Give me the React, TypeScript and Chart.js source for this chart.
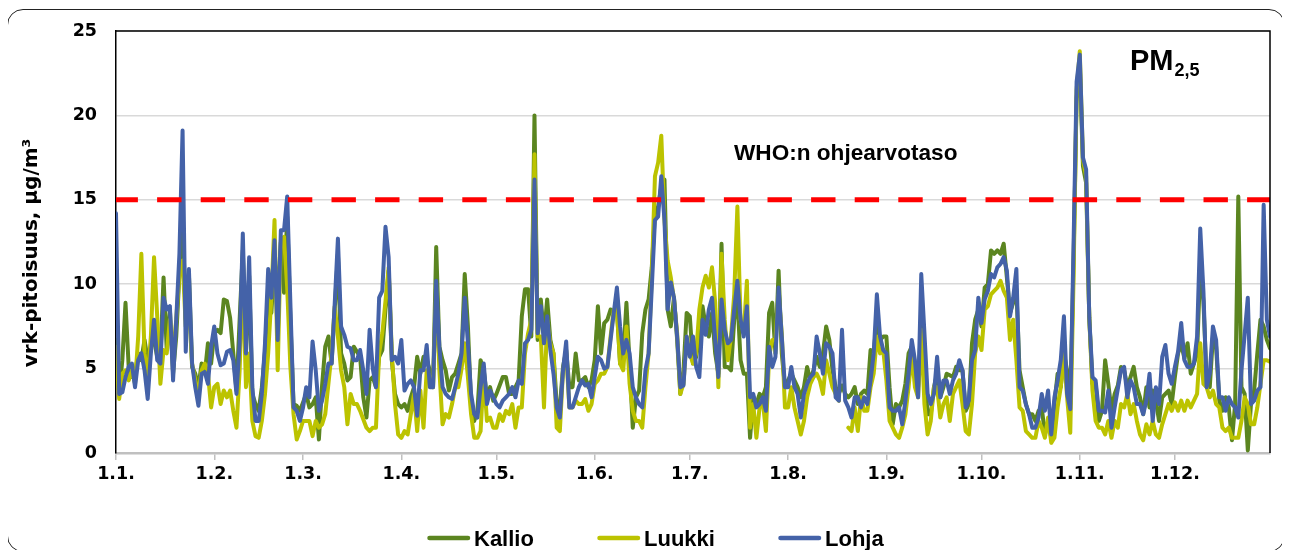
import React, { useEffect, useRef } from "react";
import { Chart, registerables } from "chart.js";

Chart.register(...registerables);

// ---- data ----
const MONTH_STARTS = [0, 31, 59, 90, 120, 151, 181, 212, 243, 273, 304, 334];
const MONTH_LABELS = ["1.1.", "1.2.", "1.3.", "1.4.", "1.5.", "1.6.", "1.7.", "1.8.", "1.9.", "1.10.", "1.11.", "1.12."];
const Y_MIN = 0;
const Y_MAX = 25;
const Y_STEP = 5;
const WHO_LIMIT = 15;
const SERIES_NAMES = ["Kallio", "Luukki", "Lohja"];
const Y_TITLE = "vrk-pitoisuus, µg/m³";
const WHO_TEXT = "WHO:n ohjearvotaso";
const PM_MAIN = "PM";
const PM_SUB = "2,5";

const KALLIO: (number | null)[] = [
  6.7, 3.5, 5.5, 8.9, 5.1, 4.5, 4.7, 5.9, 5.5, 6.7,
  5.5, 6.3, 6.7, 5.7, 5.7, 10.4, 6.1, 8.5, 4.7, 6.9,
  10.6, 14.0, 7.9, 10.6, 5.1, 4.7, 3.9, 5.3, 4.7, 6.5,
  5.3, 7.1, 7.3, 7.1, 9.1, 9.0, 8.0, 5.9, 3.7, 7.9,
  12.0, 6.0, 10.5, 3.5, 2.9, 2.5, 3.9, 6.0, 9.5, 8.3,
  11.5, 9.4, 12.5, 9.5, 14.0, 8.0, 2.9, 2.8, 2.5, 3.0,
  3.5, 2.7, 2.9, 3.3, 0.8, 4.0, 6.3, 6.9, 5.3, 8.5,
  11.8, 5.9, 5.3, 4.3, 4.5, 6.3, 6.0, 5.7, 3.3, 2.1,
  4.3, 4.5, 3.9, 5.7, 6.1, 8.5, 10.8, 5.5, 3.5, 2.9,
  2.7, 2.9, 2.5, 3.3, 3.9, 5.7, 4.7, 5.7, 5.5, 4.9,
  3.9, 12.2, 6.3, 5.5, 4.9, 3.7, 4.5, 4.7, 5.3, 5.9,
  10.6, 7.5, 2.9, 1.9, 2.5, 5.5, 4.9, 3.3, 3.9, 3.1,
  3.5, 4.0, 4.5, 4.5, 3.5, 3.5, 3.9, 4.3, 8.1, 9.7,
  9.7, 6.9, 20.0, 6.7, 9.1, 6.9, 9.1, 6.7, 5.9, 2.9,
  2.7, 5.1, 6.1, 3.9, 3.9, 5.9, 4.3, 4.3, 4.5, 3.9,
  4.3, 5.5, 8.7, 5.9, 7.7, 7.9, 8.5, 8.3, 8.5, 5.3,
  5.7, 8.9, 5.3, 1.5, 3.3, 3.7, 7.1, 8.5, 9.1, 11.0,
  14.2, 14.6, 15.8, 16.2, 8.5, 7.5, 9.2, 6.7, 3.5, 4.9,
  8.3, 8.1, 5.3, 5.7, 6.9, 8.7, 7.5, 6.9, 8.3, 5.9,
  4.7, 12.4, 5.1, 5.1, 4.9, 7.9, 9.2, 5.5, 4.7, 4.7,
  0.9, 3.3, 2.9, 3.5, 3.3, 3.9, 8.3, 8.9, 5.9, 10.8,
  5.9, 3.9, 4.3, 4.7, 4.3, 3.9, 3.3, 3.9, 5.1, 4.3,
  4.9, 5.7, 5.1, 5.9, 7.5, 6.7, 4.9, 3.9, 3.5, 4.0,
  3.5, 3.3, 3.5, 3.9, 2.9, 3.5, 3.7, 3.5, 6.1, 6.0,
  7.9, 6.7, 6.9, 6.9, 3.9, 1.7, 2.9, 2.7, 3.1, 4.1,
  5.9, 6.3, 5.1, 3.9, 7.9, 4.9, 2.3, 2.3, 3.9, 4.7,
  3.3, 3.9, 4.7, 4.6, 4.5, 5.1, 4.9, 4.9, 2.5, 2.9,
  6.5, 7.9, 8.5, 7.5, 9.8, 10.0, 12.0, 11.8, 12.0, 11.8,
  12.4, 10.4, 8.3, 8.9, 9.7, 4.9, 3.9, 2.9, 2.3, 2.3,
  1.9, 2.5, 2.7, 1.1, 1.9, 0.9, 2.9, 4.7, 3.9, 5.9,
  4.9, 2.9, 11.0, 21.0, 23.0, 17.0, 16.0, 8.0, 4.1, 4.1,
  1.9, 2.5, 5.5, 4.1, 2.5, 3.5, 4.0, 5.1, 4.9, 3.9,
  4.5, 5.1, 3.9, 3.3, 2.3, 3.9, 2.7, 3.7, 3.1, 1.9,
  3.3, 3.5, 3.7, 2.9, 4.5, 5.9, 6.5, 5.6, 6.5, 4.7,
  5.3, 5.9, 11.0, 9.0, 4.3, 3.9, 6.9, 6.3, 3.1, 2.5,
  3.3, 2.7, 0.75, 2.9, 15.2, 3.9, 3.5, 0.15, 2.9, 3.7,
  5.9, 7.9, 7.5, 6.7, 6.2,
];

const LUUKKI: (number | null)[] = [
  6.3, 3.2, 4.7, 4.9, 4.3, 4.9, 4.1, 6.9, 11.8, 5.9,
  4.5, 6.9, 11.6, 8.1, 4.1, 6.1, 5.9, 7.9, 5.9, 7.9,
  10.6, 11.4, 7.5, 8.7, 5.3, 4.3, 3.5, 4.9, 5.3, 4.7,
  2.7, 3.9, 4.1, 2.9, 3.7, 3.3, 3.7, 2.5, 1.5, 4.9,
  10.8, 3.9, 5.9, 1.9, 1.0, 0.9, 1.9, 3.5, 5.9, 9.2,
  13.8, 4.9, 12.6, 12.8, 9.8, 5.1, 2.3, 0.8, 1.3, 1.9,
  1.9, 1.9, 1.0, 1.9, 1.5, 1.7, 2.3, 4.1, 5.9, 8.7,
  6.9, 4.9, 3.9, 1.7, 3.5, 2.9, 2.9, 2.5, 2.0, 1.5,
  1.3, 1.5, 1.5, 5.9, 7.1, 9.0, 11.0, 5.9, 2.9, 1.1,
  0.9, 1.3, 1.1, 2.3, 3.5, 1.3, 3.7, 1.5, 4.9, 4.5,
  3.9, 9.8, 4.9, 1.7, 2.3, 2.1, 2.9, 3.9, 3.9, 5.0,
  6.5, 4.5, 2.3, 0.9, 0.9, 1.3, 4.7, 1.9, 2.1, 1.5,
  1.5, 2.3, 1.9, 2.5, 2.3, 2.9, 1.5, 2.7, 2.7, 5.9,
  7.1, 7.9, 17.7, 6.9, 6.9, 2.7, 7.9, 6.5, 5.9, 1.5,
  1.3, 4.9, 5.9, 2.7, 2.7, 3.1, 2.9, 2.9, 3.2, 2.5,
  2.9, 4.1, 4.3, 4.7, 4.7, 5.1, 6.9, 8.5, 8.5, 5.3,
  4.9, 7.5, 4.1, 2.5, 1.9, 1.9, 1.5, 3.9, 5.9, 10.5,
  16.4, 17.2, 18.8, 13.8, 11.4, 10.4, 9.1, 7.1, 3.5, 4.1,
  6.9, 5.9, 5.3, 5.9, 8.5, 9.8, 10.5, 9.8, 11.0, 8.9,
  3.9, 11.8, 7.9, 5.5, 6.9, 9.4, 14.6, 7.9, 7.1, 10.2,
  1.5, 2.9, 0.9, 2.7, 3.1, 1.3, 5.7, 6.7, 6.7, 9.4,
  7.1, 2.7, 2.7, 3.9, 2.7, 1.9, 1.1, 1.9, 3.3, 4.1,
  4.5, 4.7, 4.3, 3.5, 5.5, 4.7, 3.9, 3.5, 3.1, null,
  null, 1.5, 1.3, 2.7, 1.3, 3.3, 2.5, 2.5, 3.9, 4.7,
  6.9, 5.9, 6.1, 4.3, 1.9, 1.5, 1.1, 0.9, 1.5, 2.3,
  3.9, 5.9, 3.9, 3.3, 7.3, 2.9, 1.1, 1.9, 3.9, 3.9,
  2.1, 2.9, 3.3, 1.9, 3.5, 3.9, 4.3, 2.9, 1.3, 1.1,
  2.9, 5.9, 6.9, 6.1, 8.5, 8.7, 9.4, 9.6, 9.8, 10.2,
  9.6, 9.2, 6.7, 7.9, 5.5, 2.7, 2.5, 1.3, 1.1, 0.9,
  0.9, 1.9, 1.5, 0.9, 2.1, 0.6, 0.9, 2.7, 3.9, 5.9,
  3.3, 1.2, 10.0, 21.5, 23.8, 17.4, 16.4, 8.0, 3.7, 1.9,
  1.5, 1.5, 1.1, 1.9, 0.9, 1.9, 1.5, 2.9, 2.7, 3.5,
  2.3, 2.9, 1.9, 1.1, 0.75, 1.7, 1.1, 1.9, 1.1, 0.9,
  1.7, 2.3, 2.9, 2.5, 3.0, 2.5, 3.1, 2.5, 3.1, 2.7,
  3.1, 3.5, 6.5, 4.1, 3.9, 3.3, 3.7, 2.9, 2.7, 1.5,
  1.3, 1.5, 0.9, 0.9, 0.9, 1.9, 3.3, 2.9, 1.7, 1.7,
  2.7, 4.1, 5.5, 5.5, 5.4,
];

const LOHJA: (number | null)[] = [
  14.2, 3.5, 3.6, 4.5, 5.1, 5.3, 3.9, 5.5, 5.9, 4.9,
  3.2, 5.9, 7.9, 5.5, 5.3, 9.2, 8.5, 8.7, 4.3, 7.9,
  11.8, 19.1, 6.0, 10.9, 5.3, 3.9, 2.8, 4.7, 4.8, 4.1,
  6.3, 7.5, 5.9, 5.2, 5.3, 6.0, 6.1, 5.5, 3.5, 6.5,
  13.0, 5.9, 11.6, 3.9, 1.9, 1.9, 3.5, 6.5, 10.9, 9.2,
  12.6, 6.7, 13.2, 13.2, 15.2, 8.9, 2.7, 2.5, 1.9, 2.7,
  3.9, 3.3, 6.6, 4.9, 2.5, 3.1, 4.1, 5.3, 5.3, 8.9,
  12.7, 7.5, 7.0, 6.3, 6.2, 5.5, 5.5, 6.1, 4.9, 3.5,
  7.3, 5.0, 3.9, 9.2, 9.6, 13.4, 11.6, 5.5, 5.7, 5.3,
  6.7, 3.7, 4.1, 4.3, 3.9, 2.2, 4.9, 4.9, 6.4, 3.9,
  3.9, 10.2, 6.3, 3.9, 3.5, 3.3, 3.2, 3.9, 4.7, 5.9,
  9.2, 6.5, 3.5, 2.3, 2.1, 3.9, 5.3, 2.9, 3.7, 3.3,
  2.9, 2.7, 3.1, 3.3, 3.5, 3.9, 3.3, 4.3, 4.1, 6.5,
  6.7, 7.3, 16.2, 7.1, 8.7, 6.5, 8.1, 6.1, 4.7, 2.7,
  2.1, 4.9, 6.6, 2.7, 2.7, 3.3, 3.9, 4.3, 4.0, 4.1,
  3.3, 4.5, 5.7, 5.5, 5.0, 5.1, 6.7, 8.3, 9.8, 7.5,
  5.9, 6.7, 5.9, 3.9, 3.3, 2.9, 2.7, 4.9, 5.9, 9.8,
  13.8, 14.0, 16.4, 13.8, 8.5, 10.1, 9.2, 6.9, 3.9, 4.0,
  6.9, 5.7, 6.9, 5.1, 4.5, 7.9, 7.0, 8.5, 9.2, 6.7,
  4.5, 9.1, 7.3, 6.5, 6.7, 8.5, 10.2, 7.9, 6.9, 8.7,
  3.3, 3.5, 2.7, 2.9, 3.3, 2.5, 6.3, 5.1, 5.7, 9.8,
  6.9, 3.9, 3.9, 5.1, 3.9, 3.5, 2.1, 3.5, 4.1, 4.5,
  4.7, 6.9, 5.9, 4.7, 6.5, 6.3, 5.9, 3.3, 3.1, 7.3,
  3.1, 2.7, 2.1, 3.3, 3.3, 2.7, 3.3, 2.9, 4.3, 5.9,
  9.4, 6.9, 6.1, 5.9, 2.7, 2.5, 2.5, 2.7, 1.7, 3.1,
  4.7, 6.7, 5.5, 3.3, 10.6, 7.1, 3.5, 2.9, 3.5, 5.7,
  3.3, 4.3, 4.3, 3.5, 4.3, 4.7, 5.5, 4.9, 2.7, 3.1,
  5.5, 6.1, 9.2, 7.7, 9.1, 9.6, 10.6, 10.4, 11.0, 11.2,
  11.6, 10.8, 8.1, 9.2, 10.9, 3.9, 3.7, 2.9, 2.3, 1.5,
  1.5, 2.1, 3.5, 2.5, 3.7, 1.1, 3.3, 4.3, 5.5, 8.1,
  3.5, 2.6, 12.0, 22.0, 23.6, 17.5, 16.8, 8.0, 4.5, 4.3,
  2.5, 2.5, 2.4, 3.7, 1.5, 2.7, 3.8, 4.9, 5.1, 3.3,
  4.3, 3.9, 2.9, 2.9, 2.3, 3.1, 4.7, 1.9, 3.9, 2.9,
  5.7, 6.4, 4.7, 4.1, 5.1, 6.0, 7.7, 5.5, 5.1, 5.1,
  5.3, 6.9, 13.3, 9.6, 3.9, 4.7, 7.5, 6.7, 3.3, 3.3,
  2.5, 3.3, 2.9, 2.7, 2.1, 4.9, 7.0, 9.2, 2.9, 3.1,
  3.7, 3.9, 14.7, 7.9, 6.9,
];

const SERIES = [KALLIO, LUUKKI, LOHJA];
const COLORS = ["#5B8520", "#BCC300", "#4462A8"];
const WHO_COLOR = "#FF0000";
const LAST_DAY = 364;

const TICK_FONT = { family: "'DejaVu Sans', Verdana, sans-serif", size: 17.5, weight: "bold" as const };
const ARIAL = "'Liberation Sans', Arial, sans-serif";

const decorPlugin = {
  id: "decor",
  afterDraw(chart: any) {
    const { ctx, chartArea } = chart;
    const { left, top, right, bottom } = chartArea;
    ctx.save();
    // plot frame top and right
    ctx.strokeStyle = "#000";
    ctx.lineWidth = 1.5;
    ctx.beginPath();
    ctx.moveTo(left, top);
    ctx.lineTo(right, top);
    ctx.lineTo(right, bottom);
    ctx.stroke();

    // y-axis title
    ctx.fillStyle = "#000";
    ctx.font = `bold 20px 'DejaVu Sans', Verdana, sans-serif`;
    ctx.textAlign = "center";
    ctx.textBaseline = "alphabetic";
    ctx.save();
    ctx.translate(29, (top + bottom) / 2 + 11);
    ctx.rotate(-Math.PI / 2);
    ctx.fillText(Y_TITLE, 0, 0);
    ctx.restore();

    // WHO label
    ctx.textAlign = "left";
    ctx.font = `bold 22.6px ${ARIAL}`;
    ctx.fillText(WHO_TEXT, 726, 152);

    // PM2,5 label
    ctx.font = `bold 29px ${ARIAL}`;
    ctx.fillText(PM_MAIN, 1122, 62);
    const pmW = ctx.measureText(PM_MAIN).width;
    ctx.font = `bold 18px ${ARIAL}`;
    ctx.fillText(PM_SUB, 1122 + pmW + 1, 68);

    // legend
    const starts = [419, 589, 770];
    const ly = 530;
    ctx.font = `bold 22px ${ARIAL}`;
    SERIES_NAMES.forEach((name, i) => {
      const x0 = starts[i];
      ctx.strokeStyle = COLORS[i];
      ctx.lineWidth = 4.5;
      ctx.lineCap = "round";
      ctx.beginPath();
      ctx.moveTo(x0 + 2.5, ly);
      ctx.lineTo(x0 + 41, ly);
      ctx.stroke();
      ctx.fillStyle = "#000";
      ctx.fillText(name, x0 + 47, 538);
    });
    ctx.restore();
  },
};

export default function App() {
  const ref = useRef<HTMLCanvasElement>(null);
  useEffect(() => {
    if (!ref.current) return;
    const toPts = (arr: (number | null)[]) => arr.map((v, i) => ({ x: i, y: v }));
    const datasets: any[] = SERIES.map((arr, i) => ({
      label: SERIES_NAMES[i],
      data: toPts(arr),
      borderColor: COLORS[i],
      backgroundColor: COLORS[i],
      borderWidth: 4,
      pointRadius: 0,
      tension: 0,
      borderJoinStyle: "round",
      borderCapStyle: "round",
      spanGaps: false,
      order: 3 - i,
    }));
    datasets.push({
      label: "WHO",
      data: [
        { x: 0, y: WHO_LIMIT },
        { x: LAST_DAY, y: WHO_LIMIT },
      ],
      borderColor: WHO_COLOR,
      borderWidth: 5,
      borderDash: [19.4, 24.2],
      borderCapStyle: "square",
      pointRadius: 0,
      order: 0,
    });
    const chart = new Chart(ref.current, {
      type: "line",
      data: { datasets },
      options: {
        responsive: false,
        animation: false,
        devicePixelRatio: 1,
        layout: { padding: { top: 23, right: 16, left: 0, bottom: 0 } },
        plugins: { legend: { display: false }, tooltip: { enabled: false } },
        scales: {
          x: {
            type: "linear",
            min: 0,
            max: LAST_DAY,
            afterBuildTicks: (s: any) => {
              s.ticks = MONTH_STARTS.map((v) => ({ value: v }));
            },
            afterFit: (s: any) => {
              s.height = 97;
              s.paddingLeft = 0;
              s.paddingRight = 0;
            },
            ticks: {
              autoSkip: false,
              maxRotation: 0,
              padding: 4,
              color: "#000",
              font: TICK_FONT,
              callback: (v: any) => MONTH_LABELS[MONTH_STARTS.indexOf(Number(v))],
            },
            grid: { drawOnChartArea: false, drawTicks: true, tickLength: 7, color: "#c0c0c0", lineWidth: 1.5 },
            border: { display: true, color: "#c0c0c0", width: 2.5 },
          },
          y: {
            min: Y_MIN,
            max: Y_MAX,
            afterFit: (s: any) => {
              s.width = 108;
              s.paddingTop = 0;
              s.paddingBottom = 0;
            },
            ticks: { stepSize: Y_STEP, padding: 19, color: "#000", font: TICK_FONT },
            grid: { drawTicks: false, color: "#d9d9d9", lineWidth: 1.5 },
            border: { display: true, color: "#000", width: 1.5 },
          },
        },
      } as any,
      plugins: [decorPlugin],
    });
    return () => chart.destroy();
  }, []);

  return (
    <div style={{ position: "relative", width: 1278, height: 542 }}>
      <canvas ref={ref} width={1278} height={542} style={{ position: "absolute", left: 0, top: 0 }} />
      <div
        style={{
          position: "absolute",
          left: -1,
          top: 1,
          width: 1278,
          height: 543,
          border: "1.5px solid #222",
          borderRadius: 16,
          boxSizing: "border-box",
          pointerEvents: "none",
        }}
      />
    </div>
  );
}
